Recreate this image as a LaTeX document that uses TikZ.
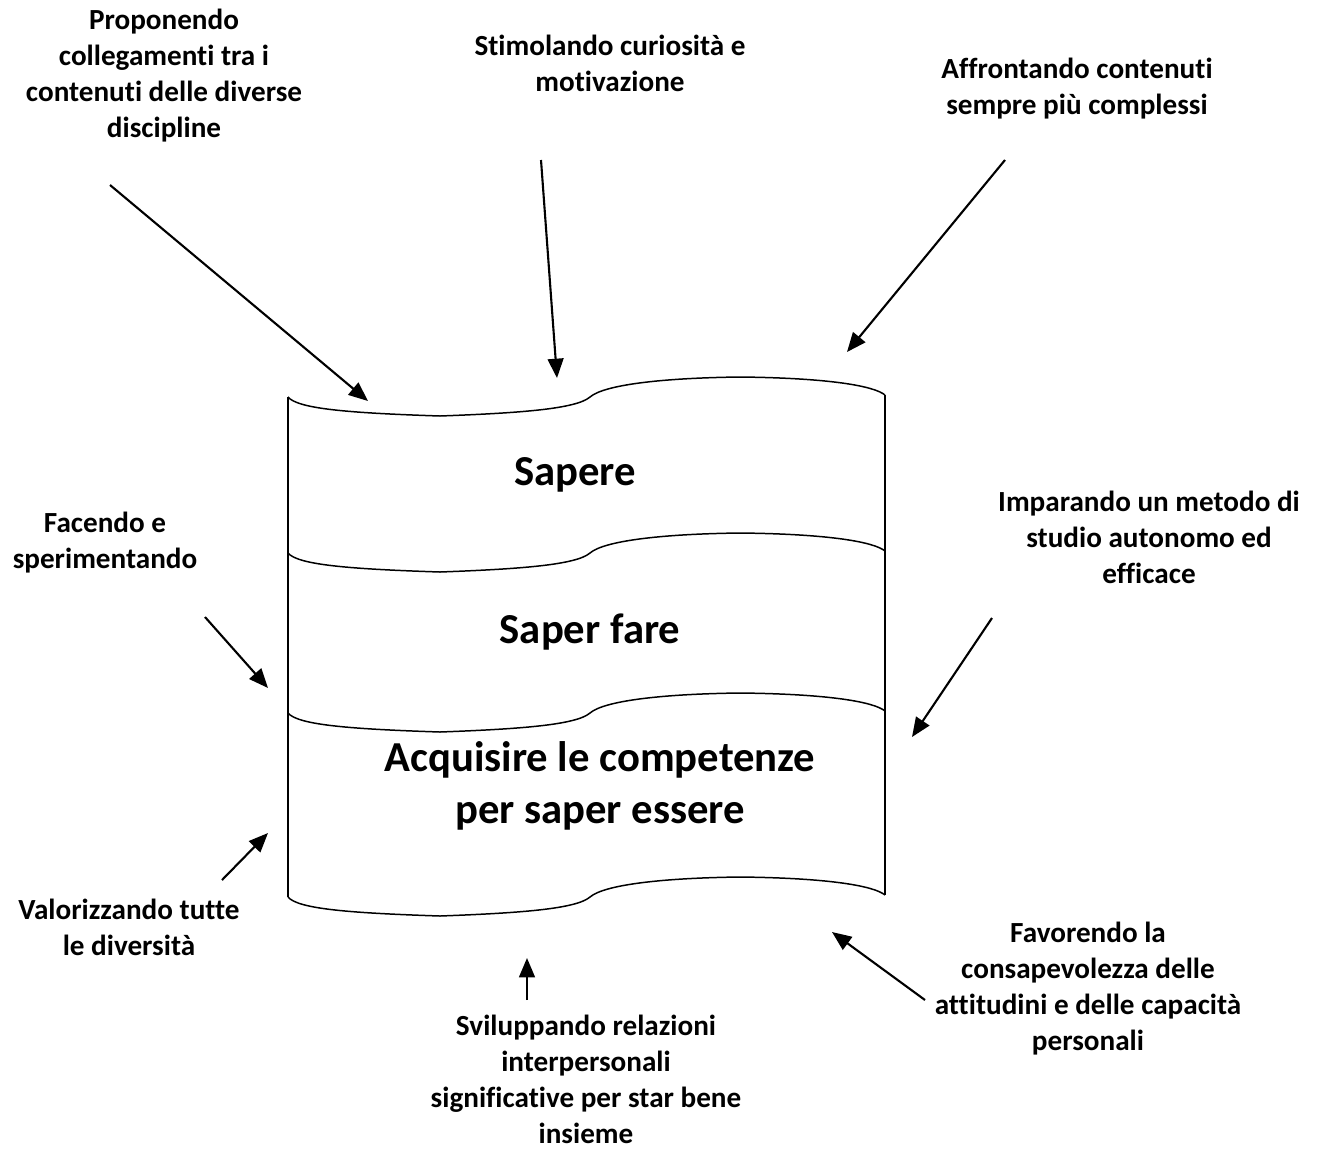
\documentclass[tikz,border=0pt]{standalone}
\usepackage{fontspec}
\setmainfont{Carlito}[Ligatures=NoCommon]
\usetikzlibrary{calc,positioning,arrows.meta}

\tikzset{
	note/.style={align=center,font=\fontsize{16.6}{20.5}\selectfont\bfseries,inner sep=0pt},
	layer/.style={align=center,font=\fontsize{24.3}{29.5}\selectfont\bfseries,inner sep=0pt},
	pointer/.style={line width=1.2pt,-{Triangle[length=11pt,width=9pt]}},
	edge/.style={line width=0.85pt}
}

\begin{document}
\begin{tikzpicture}[x=0.02cm,y=-0.02cm]
	\useasboundingbox (0,0) rectangle (1321,1150);

	\foreach \y in {397,553,713,897}{
	\draw[edge] (288,\y) .. controls (298,\y+12) and (350,\y+16) .. (440,\y+19)
		.. controls (520,\y+16) and (576,\y+12) .. (590,\y)
		.. controls (604,\y-12) and (660,\y-19) .. (740,\y-20)
		.. controls (830,\y-19) and (874,\y-11) .. (885,\y-2);
	}
	\draw[edge] (288,397) -- (288,897);
	\draw[edge] (885,395) -- (885,895);

	\node[layer] (sapere) at (575,475) {Sapere};
	\node[layer] (fare) at (590,632) {Saper fare};
	\node[layer] (essere) at (600,786) {Acquisire le competenze\\per saper essere};

	\node[note] (prop) at (164,76) {Proponendo\\collegamenti tra i\\contenuti delle diverse\\discipline};
	\node[note] (stim) at (610,63) {Stimolando curiosità e\\motivazione};
	\node[note] (affr) at (1077,89) {Affrontando contenuti\\sempre più complessi};
	\node[note] (fac) at (105,543) {Facendo e\\sperimentando};
	\node[note] (imp) at (1149,537) {Imparando un metodo di\\studio autonomo ed\\efficace};
	\node[note] (val) at (129,927) {Valorizzando tutte\\le diversità};
	\node[note] (svil) at (586,1079) {Sviluppando relazioni\\interpersonali\\significative per star bene\\insieme};
	\node[note] (fav) at (1088,989) {Favorendo la\\consapevolezza delle\\attitudini e delle capacità\\personali};

	\coordinate (prop-a) at (110,185);   \coordinate (prop-b) at (368,401);
	\coordinate (stim-a) at (541,160);   \coordinate (stim-b) at (557,378);
	\coordinate (affr-a) at (1005,160);  \coordinate (affr-b) at (847,352);
	\coordinate (fac-a) at (205,617);    \coordinate (fac-b) at (268,688);
	\coordinate (imp-a) at (992,618);    \coordinate (imp-b) at (912,737);
	\coordinate (val-a) at (222,880);    \coordinate (val-b) at (268,833);
	\coordinate (svil-a) at (527,1000);  \coordinate (svil-b) at (527,958);
	\coordinate (fav-a) at (925,1000);   \coordinate (fav-b) at (832,932);

	\foreach \n in {prop,stim,affr,fac,imp,val,svil,fav}{
	\draw[pointer] (\n-a) -- (\n-b);
	}
\end{tikzpicture}
\end{document}
